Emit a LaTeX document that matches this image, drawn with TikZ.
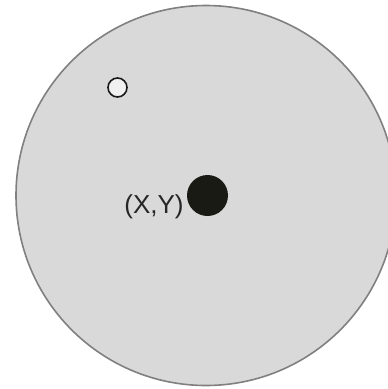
\documentclass[tikz,border=0pt]{standalone}
\usepackage{fontspec}
\setmainfont{Liberation Sans}
\usetikzlibrary{positioning}

\definecolor{discgray}{HTML}{D9D9D9}
\definecolor{rimgray}{HTML}{808080}
\definecolor{dotblack}{HTML}{1A1A14}

\begin{document}
\begin{tikzpicture}[
    x=1pt, y=-1pt,
    disc/.style={circle, draw=rimgray, line width=1.6pt, fill=discgray, inner sep=0pt, minimum size=380pt},
    hole/.style={circle, draw=black!90, line width=1.6pt, fill=white!94!black, inner sep=0pt, minimum size=19pt},
    centre/.style={circle, fill=dotblack, inner sep=0pt, minimum size=41pt},
    label/.style={font=\fontsize{26}{30}\selectfont, text=black!85, inner sep=0pt}
]
\useasboundingbox (0,0) rectangle (388,389);

% Big disc
\node[disc] (plate) at (206,195.5) {};

% Small hole
\node[hole] (pin) at (117.5,87.5) {};

% Centre point
\node[centre] (xy) at (207.5,195.5) {};
\node[label, left=3pt of xy, yshift=-11pt] (xylabel) {(X,Y)};

\end{tikzpicture}
\end{document}
